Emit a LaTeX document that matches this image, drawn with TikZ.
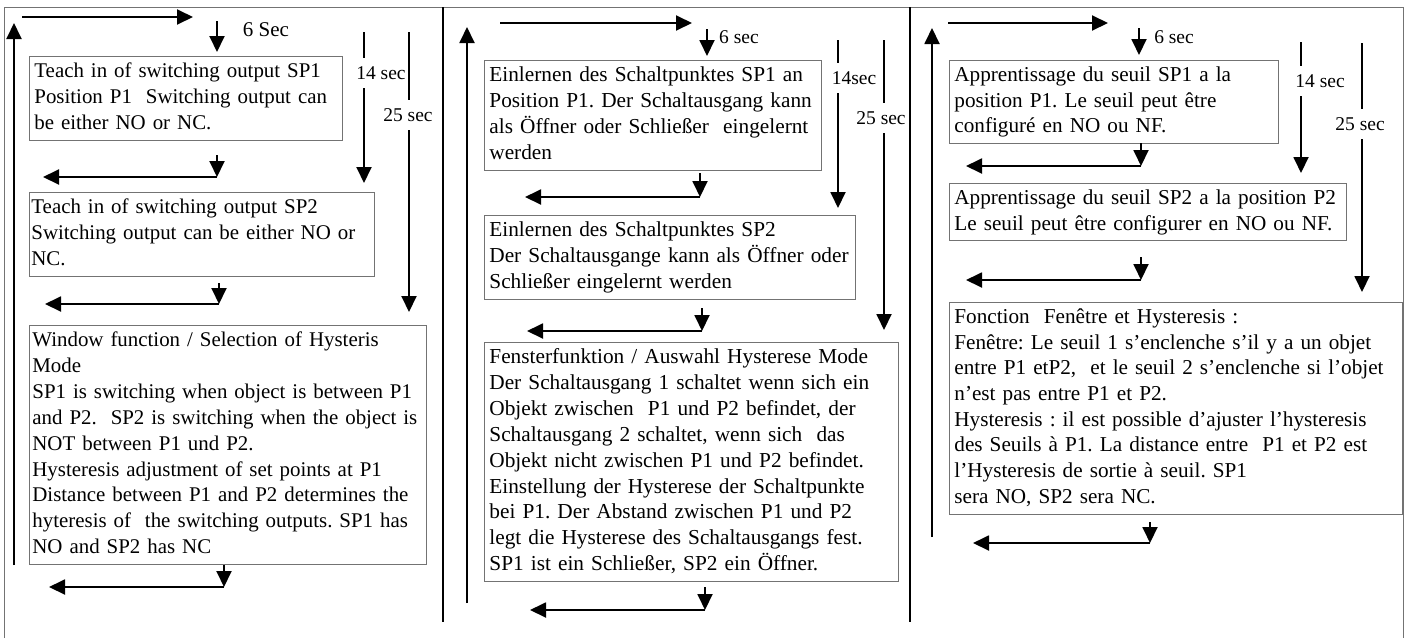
\documentclass[tikz,border=0pt]{standalone}
\usepackage{fontspec}
\setmainfont{Liberation Serif}
\usetikzlibrary{arrows.meta}
\frenchspacing

\begin{document}
\begin{tikzpicture}[x=1pt,y=-1pt,
                arr/.style={-{Triangle[length=16pt,width=15pt]},line width=1.9pt},
                bar/.style={line width=1.9pt},
                t node/.style={draw=black!55,line width=0.8pt,anchor=north west,align=left,inner xsep=5pt,inner ysep=3pt,
                               font=\fontsize{21.3}{25.9}\selectfont,execute at begin node=\strut,execute at end node=\strut},
                en node/.style={t node,font=\fontsize{20.9}{25.9}\selectfont},
                fr node/.style={t node,font=\fontsize{21.2}{25.7}\selectfont},
                s node/.style={font=\fontsize{19.5}{21}\selectfont,fill=white,inner xsep=1pt,inner ysep=8pt}]

    \useasboundingbox (0,0) rectangle (1410,638);

    % frame and columns
    \draw[black!55,line width=0.9pt] (4,638) -- (4,7) -- (1403,7) -- (1403,638);
    \draw[bar] (443,7) -- (443,622);
    \draw[bar] (910,7) -- (910,622);

    % English
    \node[en node,text width=303pt] (en1) at (29,56) {Teach in of switching output SP1\\Position P1~ Switching output can\\be either NO or NC.};
    \node[en node,text width=341pt,inner xsep=2pt] (en2) at (29,192) {Teach in of switching output SP2\\Switching output can be either NO or\\NC.};
    \node[en node,text width=391pt,inner xsep=3pt] (en3) at (29,325) {Window function / Selection of Hysteris\\Mode\\SP1 is switching when object is between P1\\and P2.~ SP2 is switching when the object is\\NOT between P1 und P2.\\Hysteresis adjustment of set points at P1\\Distance between P1 and P2 determines the\\hyteresis of~ the switching outputs. SP1 has\\NO and SP2 has NC};

    \coordinate (enu0) at (14,565);   \coordinate (enu1) at (14,23);
    \coordinate (enr0) at (22,17);    \coordinate (enr1) at (193,17);
    \coordinate (end0) at (217,21);   \coordinate (end1) at (217,52);
    \coordinate (ena0) at (364,32);   \coordinate (ena1) at (364,183);
    \coordinate (enb0) at (409,32);   \coordinate (enb1) at (409,312);
    \coordinate (enk1) at (217,155);  \coordinate (enc1) at (217,177);  \coordinate (enl1) at (43,177);
    \coordinate (enk2) at (219,283);  \coordinate (enc2) at (219,304);  \coordinate (enl2) at (45,304);
    \coordinate (enk3) at (224,565);  \coordinate (enc3) at (224,587);  \coordinate (enl3) at (49,587);

    \draw[arr] (enu0) -- (enu1);
    \draw[arr] (enr0) -- (enr1);
    \draw[arr] (end0) -- (end1);
    \draw[arr] (ena0) -- (ena1);
    \draw[arr] (enb0) -- (enb1);
    \draw[arr] (enk1) -- (enc1);
    \draw[arr] (enc1) -- (enl1);
    \draw[arr] (enk2) -- (enc2);
    \draw[arr] (enc2) -- (enl2);
    \draw[arr] (enk3) -- (enc3);
    \draw[arr] (enc3) -- (enl3);

    \node[s node,font=\fontsize{21}{22}\selectfont] (en6) at (266,30) {6 Sec};
    \node[s node] (en14) at (381,73) {14 sec};
    \node[s node] (en25) at (408,115) {25 sec};

    % German
    \node[t node,text width=327pt] (de1) at (484,60) {Einlernen des Schaltpunktes SP1 an\\Position P1. Der Schaltausgang kann\\als Öffner oder Schließer~ eingelernt\\werden};
    \node[t node,text width=361pt] (de2) at (484,215) {Einlernen des Schaltpunktes SP2\\Der Schaltausgange kann als Öffner oder\\Schließer eingelernt werden};
    \node[t node,text width=404pt] (de3) at (484,342) {Fensterfunktion / Auswahl Hysterese Mode\\Der Schaltausgang 1 schaltet wenn sich ein\\Objekt zwischen~ P1 und P2 befindet, der\\Schaltausgang 2 schaltet, wenn sich~ das\\Objekt nicht zwischen P1 und P2 befindet.\\Einstellung der Hysterese der Schaltpunkte\\bei P1. Der Abstand zwischen P1 und P2\\legt die Hysterese des Schaltausgangs fest.\\SP1 ist ein Schließer, SP2 ein Öffner.};

    \coordinate (deu0) at (467,603);  \coordinate (deu1) at (467,27);
    \coordinate (der0) at (500,23);   \coordinate (der1) at (692,23);
    \coordinate (ded0) at (707,29);   \coordinate (ded1) at (707,56);
    \coordinate (dea0) at (838,40);   \coordinate (dea1) at (838,208);
    \coordinate (deb0) at (884,40);   \coordinate (deb1) at (884,330);
    \coordinate (dek1) at (700,173);  \coordinate (dec1) at (700,197);  \coordinate (del1) at (525,197);
    \coordinate (dek2) at (702,308);  \coordinate (dec2) at (702,331);  \coordinate (del2) at (527,331);
    \coordinate (dek3) at (705,587);  \coordinate (dec3) at (705,610);  \coordinate (del3) at (530,610);

    \draw[arr] (deu0) -- (deu1);
    \draw[arr] (der0) -- (der1);
    \draw[arr] (ded0) -- (ded1);
    \draw[arr] (dea0) -- (dea1);
    \draw[arr] (deb0) -- (deb1);
    \draw[arr] (dek1) -- (dec1);
    \draw[arr] (dec1) -- (del1);
    \draw[arr] (dek2) -- (dec2);
    \draw[arr] (dec2) -- (del2);
    \draw[arr] (dek3) -- (dec3);
    \draw[arr] (dec3) -- (del3);

    \node[s node] (de6) at (739,37) {6 sec};
    \node[s node] (de14) at (854,78) {14sec};
    \node[s node] (de25) at (881,118) {25 sec};

    % French
    \node[fr node,text width=319pt] (fr1) at (949,60) {Apprentissage du seuil SP1 a la\\position P1. Le seuil peut être\\configuré en NO ou NF.};
    \node[fr node,text width=387pt] (fr2) at (949,183) {Apprentissage du seuil SP2 a la position P2\\Le seuil peut être configurer en NO ou NF.};
    \node[fr node,text width=443pt] (fr3) at (949,302) {Fonction~ Fenêtre et Hysteresis :\\Fenêtre: Le seuil 1 s’enclenche s’il y a un objet\\entre P1 etP2,~ et le seuil 2 s’enclenche si l’objet\\n’est pas entre P1 et P2.\\Hysteresis : il est possible d’ajuster l’hysteresis\\des Seuils à P1. La distance entre~ P1 et P2 est\\l’Hysteresis de sortie à seuil. SP1\\sera NO, SP2 sera NC.};

    \coordinate (fru0) at (932,537);  \coordinate (fru1) at (932,28);
    \coordinate (frr0) at (948,23);   \coordinate (frr1) at (1108,23);
    \coordinate (frd0) at (1139,28);  \coordinate (frd1) at (1139,55);
    \coordinate (fra0) at (1301,42);  \coordinate (fra1) at (1301,173);
    \coordinate (frb0) at (1362,43);  \coordinate (frb1) at (1362,292);
    \coordinate (frk1) at (1141,143); \coordinate (frc1) at (1141,166); \coordinate (frl1) at (966,166);
    \coordinate (frk2) at (1141,257); \coordinate (frc2) at (1141,280); \coordinate (frl2) at (966,280);
    \coordinate (frk3) at (1150,522); \coordinate (frc3) at (1150,543); \coordinate (frl3) at (973,543);

    \draw[arr] (fru0) -- (fru1);
    \draw[arr] (frr0) -- (frr1);
    \draw[arr] (frd0) -- (frd1);
    \draw[arr] (fra0) -- (fra1);
    \draw[arr] (frb0) -- (frb1);
    \draw[arr] (frk1) -- (frc1);
    \draw[arr] (frc1) -- (frl1);
    \draw[arr] (frk2) -- (frc2);
    \draw[arr] (frc2) -- (frl2);
    \draw[arr] (frk3) -- (frc3);
    \draw[arr] (frc3) -- (frl3);

    \node[s node] (fr6) at (1174,37) {6 sec};
    \node[s node] (fr14) at (1320,81) {14 sec};
    \node[s node] (fr25) at (1360,124) {25 sec};

\end{tikzpicture}
\end{document}
